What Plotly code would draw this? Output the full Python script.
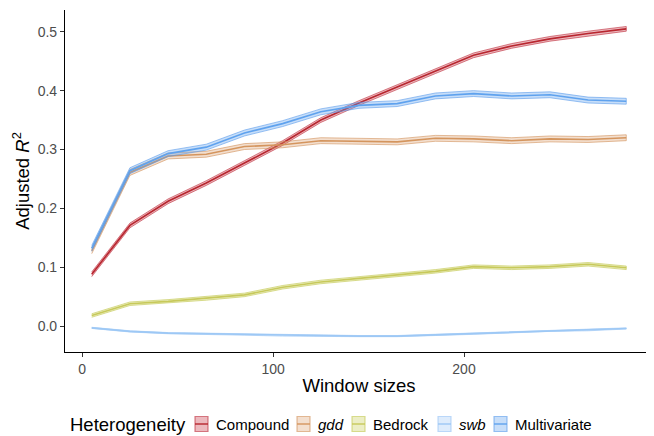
import plotly.graph_objects as go

window_sizes = [5, 25, 45, 65, 85, 105, 125, 145, 165, 185, 205, 225, 245, 265, 285]

compound = [0.088, 0.171, 0.212, 0.243, 0.277, 0.311, 0.350, 0.379, 0.406, 0.433, 0.460, 0.476, 0.488, 0.497, 0.505]
gdd = [0.128, 0.261, 0.289, 0.292, 0.305, 0.308, 0.315, 0.314, 0.313, 0.319, 0.318, 0.315, 0.318, 0.317, 0.320]
bedrock = [0.018, 0.038, 0.042, 0.047, 0.053, 0.066, 0.075, 0.081, 0.087, 0.093, 0.101, 0.099, 0.101, 0.105, 0.099]
swb = [-0.003, -0.009, -0.012, -0.013, -0.0145, -0.016, -0.017, -0.017, -0.017, -0.015, -0.013, -0.011, -0.008, -0.007, -0.004]
multivariate = [0.132, 0.264, 0.293, 0.304, 0.328, 0.344, 0.364, 0.375, 0.378, 0.391, 0.395, 0.391, 0.393, 0.384, 0.382]

series_names = ["Compound", "<i>gdd</i>", "Bedrock", "<i>swb</i>", "Multivariate"]
half_widths = [0.004, 0.005, 0.003, 0.001, 0.005]
line_colors = ["#B8262F", "#D4955E", "#C7C95A", "#9DC8F5", "#5FA2EE"]
fill_colors = ["rgba(200,55,70,0.35)", "rgba(215,150,95,0.30)", "rgba(200,205,90,0.35)",
               "rgba(160,200,245,0.35)", "rgba(95,160,238,0.35)"]
edge_colors = ["rgba(190,45,60,0.6)", "rgba(210,145,90,0.6)", "rgba(195,200,80,0.6)",
               "rgba(150,195,245,0.6)", "rgba(90,155,235,0.6)"]

all_series = [compound, gdd, bedrock, swb, multivariate]

# the page body has an 8px default margin; size the figure so it fills the window
OFF = 8
W, H = 646, 428
ML, MR, MT, MB = 57, 1, 2, 84
PW, PH = W - ML - MR, H - MT - MB


def px_x(px):
    return (px - OFF - ML) / PW


def px_y(py):
    return (H - MB - (py - OFF)) / PH


fig = go.Figure()
for name, vals, hw, lc, fc, ec in zip(series_names, all_series, half_widths, line_colors, fill_colors, edge_colors):
    upper = [v + hw for v in vals]
    lower = [v - hw for v in vals]
    fig.add_trace(go.Scatter(
        x=window_sizes + window_sizes[::-1],
        y=upper + lower[::-1],
        fill="toself", fillcolor=fc,
        line=dict(color=ec, width=1),
        mode="lines", name=name, showlegend=False,
        hoverinfo="skip",
    ))
    fig.add_trace(go.Scatter(
        x=window_sizes, y=vals, mode="lines",
        line=dict(color=lc, width=1.6),
        name=name, showlegend=False,
    ))

# manual legend (ggplot-style keys)
legend_y = 424
key_size = 13
key_x = [195, 297, 352, 438, 494]
shapes = []
annotations = [dict(text="Heterogeneity", x=px_x(68), y=px_y(legend_y), xref="paper", yref="paper",
                    xanchor="left", yanchor="middle", showarrow=False,
                    font=dict(size=18.5, color="black"))]
for name, kx, lc, fc, ec in zip(series_names, key_x, line_colors, fill_colors, edge_colors):
    shapes.append(dict(type="rect", xref="paper", yref="paper",
                       x0=px_x(kx), x1=px_x(kx + key_size),
                       y0=px_y(legend_y - key_size / 2 - 1), y1=px_y(legend_y + key_size / 2 + 1),
                       fillcolor=fc, line=dict(color=ec, width=1.2)))
    shapes.append(dict(type="line", xref="paper", yref="paper",
                       x0=px_x(kx), x1=px_x(kx + key_size),
                       y0=px_y(legend_y), y1=px_y(legend_y),
                       line=dict(color=lc, width=1.4)))
    annotations.append(dict(text=name, x=px_x(kx + key_size + 6), y=px_y(legend_y),
                            xref="paper", yref="paper", xanchor="left", yanchor="middle",
                            showarrow=False, font=dict(size=15, color="black")))

axis_common = dict(
    showgrid=False, zeroline=False, showline=True, linecolor="black", linewidth=1.2,
    ticks="outside", ticklen=4, tickcolor="#333333", tickwidth=1,
    tickfont=dict(size=14, color="#4D4D4D"), automargin=False,
)

fig.update_layout(
    width=W, height=H,
    margin=dict(l=ML, r=MR, t=MT, b=MB),
    plot_bgcolor="white", paper_bgcolor="white",
    font=dict(family="Arial, Liberation Sans, sans-serif", color="black"),
    xaxis=dict(range=[-9, 299], tickvals=[0, 100, 200],
               title=dict(text="Window sizes", font=dict(size=18.5), standoff=3),
               **axis_common),
    yaxis=dict(range=[-0.044, 0.537], tickvals=[0.0, 0.1, 0.2, 0.3, 0.4, 0.5],
               tickformat=".1f",
               title=dict(text="Adjusted <i>R</i><sup>2</sup>", font=dict(size=18.5), standoff=3),
               **axis_common),
    shapes=shapes,
    annotations=annotations,
    showlegend=False,
)

fig.write_html("out.html")
